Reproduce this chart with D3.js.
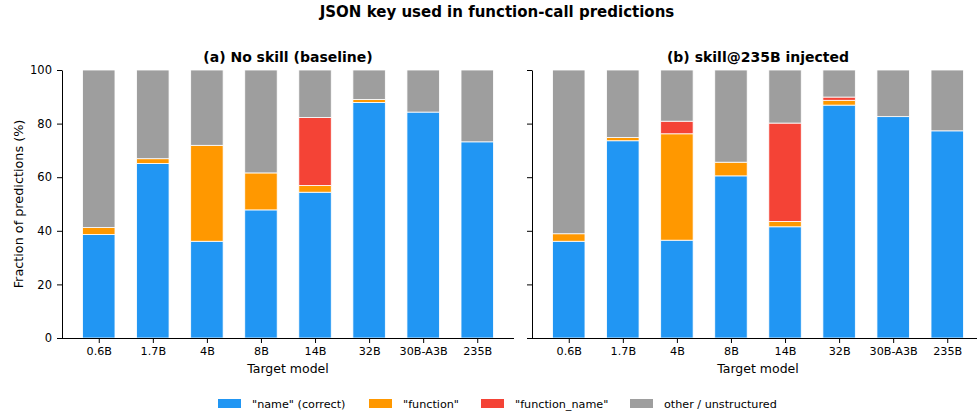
<!DOCTYPE html>
<html>
<head>
<meta charset="utf-8">
<script src="https://cdn.jsdelivr.net/npm/d3@7"></script>
<style>
  body { margin: 0; background: #fff; }
  svg { font-family: "DejaVu Sans", sans-serif; display: block; }
</style>
</head>
<body>
<svg id="chart" width="977" height="415"></svg>
<script>
// Target models on the x axis.
var models = ['0.6B', '1.7B', '4B', '8B', '14B', '32B', '30B-A3B', '235B'];

// Panel (a): no skill (baseline), % of predictions per JSON key.
var baseName         = [38.6, 65.1, 36.1, 47.8, 54.4, 87.9, 84.3, 73.2];
var baseFunction     = [2.6, 1.8, 35.8, 13.8, 2.5, 1.1, 0, 0];
var baseFunctionName = [0, 0, 0, 0, 25.4, 0, 0, 0];
var baseOther        = [58.8, 33.1, 28.1, 38.4, 17.7, 11.0, 15.7, 26.8];

// Panel (b): skill@235B injected.
var skillName         = [36.1, 73.6, 36.5, 60.5, 41.5, 86.9, 82.6, 77.3];
var skillFunction     = [2.8, 1.2, 39.7, 5.1, 2.0, 1.8, 0, 0];
var skillFunctionName = [0, 0, 4.7, 0, 36.7, 1.2, 0, 0];
var skillOther        = [61.1, 25.2, 19.1, 34.4, 19.8, 10.1, 17.4, 22.7];

var seriesKeys   = ['name', 'function', 'function_name', 'other'];
var seriesLabels = ['"name" (correct)', '"function"', '"function_name"', 'other / unstructured'];
var yTicks = [0, 20, 40, 60, 80, 100];

var colors = {
  name: '#2196F3',
  'function': '#FF9800',
  function_name: '#F44336',
  other: '#9E9E9E'
};

var svg = d3.select('#chart');

// Build rows for d3.stack from the arrays above.
function rows(name, fn, fnName, other) {
  return models.map(function(m, i) {
    return { model: m, idx: i, name: name[i], 'function': fn[i], function_name: fnName[i], other: other[i] };
  });
}

var panels = [
  { title: '(a) No skill (baseline)', left: 62, data: rows(baseName, baseFunction, baseFunctionName, baseOther), yLabels: true },
  { title: '(b) skill@235B injected', left: 532, data: rows(skillName, skillFunction, skillFunctionName, skillOther), yLabels: false }
];

var panelWidth = 452;
var plotTop = 70, plotBottom = 338;
var barWidth = 0.6;

var y = d3.scaleLinear().domain([0, 100]).range([plotBottom, plotTop]);
var stack = d3.stack().keys(seriesKeys);

// Figure title.
svg.append('text')
  .attr('x', 497)
  .attr('y', 17)
  .attr('text-anchor', 'middle')
  .attr('font-size', 15)
  .attr('font-weight', 'bold')
  .text('JSON key used in function-call predictions');

panels.forEach(function(p) {
  var x = d3.scaleLinear()
    .domain([-0.68, models.length - 1 + 0.68])
    .range([p.left, p.left + panelWidth]);

  var g = svg.append('g');

  // Stacked bars.
  var layers = stack(p.data);
  g.selectAll('g.layer')
    .data(layers)
    .enter().append('g')
      .attr('class', 'layer')
      .attr('fill', function(d) { return colors[d.key]; })
    .selectAll('rect')
    .data(function(d) { return d; })
    .enter().append('rect')
      .attr('x', function(d) { return x(d.data.idx - barWidth / 2); })
      .attr('width', function(d) { return x(barWidth) - x(0); })
      .attr('y', function(d) { return y(d[1]); })
      .attr('height', function(d) { return y(d[0]) - y(d[1]); })
      .attr('stroke', '#fff')
      .attr('stroke-width', 0.8);

  // X axis.
  var xAxis = g.append('g')
    .attr('transform', 'translate(0,' + plotBottom + ')')
    .call(d3.axisBottom(x)
      .tickValues(d3.range(models.length))
      .tickFormat(function(i) { return models[i]; })
      .tickSize(5)
      .tickPadding(4)
      .tickSizeOuter(0));
  xAxis.select('.domain').attr('d', 'M' + p.left + ',0.5H' + (p.left + panelWidth));
  xAxis.selectAll('text').attr('font-size', 11.2).attr('fill', '#000').attr('font-family', 'DejaVu Sans');

  // Y axis.
  var yAxis = g.append('g')
    .attr('transform', 'translate(' + p.left + ',0)')
    .call(d3.axisLeft(y)
      .tickValues(yTicks)
      .tickSize(5)
      .tickPadding(5)
      .tickSizeOuter(0)
      .tickFormat(p.yLabels ? d3.format('d') : function() { return ''; }));
  yAxis.selectAll('text').attr('font-size', 11.5).attr('fill', '#000').attr('font-family', 'DejaVu Sans');

  // Panel title.
  g.append('text')
    .attr('x', p.left + panelWidth / 2)
    .attr('y', 62)
    .attr('text-anchor', 'middle')
    .attr('font-size', 14)
    .attr('font-weight', 'bold')
    .text(p.title);

  // X axis label.
  g.append('text')
    .attr('x', p.left + panelWidth / 2)
    .attr('y', 373)
    .attr('text-anchor', 'middle')
    .attr('font-size', 12.5)
    .text('Target model');
});

// Y axis label.
svg.append('text')
  .attr('transform', 'translate(23,' + ((plotTop + plotBottom) / 2) + ') rotate(-90)')
  .attr('text-anchor', 'middle')
  .attr('font-size', 12.8)
  .text('Fraction of predictions (%)');

// Legend.
var legendX = [218, 369, 481, 630];
var legend = svg.append('g');
seriesKeys.forEach(function(k, i) {
  legend.append('rect')
    .attr('x', legendX[i])
    .attr('y', 399)
    .attr('width', 23)
    .attr('height', 9)
    .attr('fill', colors[k]);
  legend.append('text')
    .attr('x', legendX[i] + 34)
    .attr('y', 408)
    .attr('font-size', 11.2)
    .text(seriesLabels[i]);
});
</script>
</body>
</html>
